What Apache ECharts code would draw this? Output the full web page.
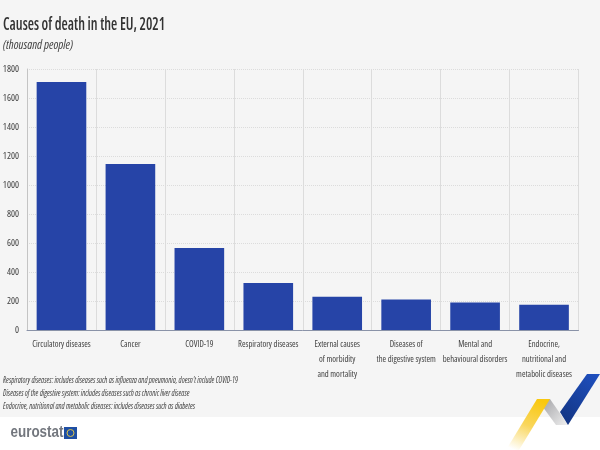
<!DOCTYPE html>
<html>
<head>
<meta charset="utf-8">
<title>Causes of death in the EU, 2021</title>
<style>
  html, body { margin: 0; padding: 0; background: #fff; }
  #chart { width: 600px; height: 450px; }
</style>
<script src="https://cdn.jsdelivr.net/npm/echarts@6/dist/echarts.min.js"></script>
</head>
<body>
<div id="chart"></div>
<script>
var chartTitle = 'Causes of death in the EU, 2021';
var chartUnit = '(thousand people)';
var categories = [
  'Circulatory diseases',
  'Cancer',
  'COVID-19',
  'Respiratory diseases',
  'External causes\nof morbidity\nand mortality',
  'Diseases of\nthe digestive system',
  'Mental and\nbehavioural disorders',
  'Endocrine,\nnutritional and\nmetabolic diseases'
];
var deaths = [1710, 1145, 565, 325, 230, 210, 190, 175];
var footnotes = [
  "Respiratory diseases: includes diseases such as influenza and pneumonia, doesn't include COVID-19",
  'Diseases of the digestive system: includes diseases such as chronic liver disease',
  'Endocrine, nutritional and metabolic diseases: includes diseases such as diabetes'
];

var fontName = '"Open Sans", sans-serif';
// fontWeight goes straight into the canvas font string, this gets the narrow width of Open Sans
var narrow = 'extra-condensed';
var textColor = '#404040';
var gridColor = '#dcdcdc';

var myChart = echarts.init(document.getElementById('chart'));

var option = {
  animation: false,
  backgroundColor: '#ffffff',
  textStyle: { fontFamily: fontName, color: textColor },
  grid: { left: 27, right: 21.5, top: 69, bottom: 120, outerBoundsMode: 'none' },
  xAxis: {
    type: 'category',
    data: categories,
    axisTick: { show: false },
    axisLine: { lineStyle: { color: '#8a93a8', width: 1 } },
    axisLabel: {
      interval: 0,
      margin: 7,
      fontFamily: fontName,
      fontWeight: narrow,
      fontSize: 8.6,
      lineHeight: 15,
      color: textColor
    },
    splitLine: { show: true, lineStyle: { color: gridColor, width: 1 } }
  },
  yAxis: {
    type: 'value',
    min: 0,
    max: 1800,
    interval: 200,
    axisLine: { show: true, lineStyle: { color: '#c4c4c4', width: 1 } },
    axisTick: { show: false },
    axisLabel: {
      margin: 8,
      fontFamily: fontName,
      fontWeight: narrow,
      fontSize: 9.5,
      color: textColor,
      formatter: function (v) { return String(v); }
    },
    splitLine: { show: true, lineStyle: { color: gridColor, width: 1, type: 'dotted' } }
  },
  series: [{
    name: 'Deaths',
    type: 'bar',
    data: deaths,
    barWidth: '72%',
    itemStyle: { color: '#2644a7' }
  }],
  graphic: [
    // page background above the logo strip
    { type: 'rect', z: -10, silent: true, shape: { x: 0, y: 0, width: 600, height: 417 }, style: { fill: '#f5f5f5' } },
    // title and unit
    { type: 'text', z: 5, x: 3, y: 17, scaleX: 0.84, style: { text: chartTitle, font: '600 extra-condensed 17px ' + fontName, fill: '#333333' } },
    { type: 'text', z: 5, x: 3, y: 39.5, style: { text: chartUnit, font: 'italic extra-condensed 12px ' + fontName, fill: textColor } },
    // footnotes
    { type: 'text', z: 5, x: 3, y: 376, scaleX: 0.85, style: { text: footnotes[0], font: 'italic extra-condensed 8.8px ' + fontName, fill: textColor } },
    { type: 'text', z: 5, x: 3, y: 389, scaleX: 0.85, style: { text: footnotes[1], font: 'italic extra-condensed 8.8px ' + fontName, fill: textColor } },
    { type: 'text', z: 5, x: 3, y: 402, scaleX: 0.85, style: { text: footnotes[2], font: 'italic extra-condensed 8.8px ' + fontName, fill: textColor } },
    // eurostat logo
    { type: 'text', z: 5, x: 10.5, y: 425, scaleX: 0.84, style: { text: 'eurostat', font: 'bold 16px "Liberation Sans", sans-serif', fill: '#73777e' } },
    { type: 'rect', z: 5, shape: { x: 64, y: 427, width: 13, height: 12 }, style: { fill: '#1f4fa3' } },
    { type: 'circle', z: 6, shape: { cx: 70.5, cy: 433, r: 3.5 }, style: { fill: 'none', stroke: '#d9c24a', lineWidth: 1 } },
    // arrow decoration
    {
      type: 'polygon', z: 5,
      shape: { points: [[506, 450], [537, 399], [550, 399], [519, 450]] },
      style: { fill: new echarts.graphic.LinearGradient(0.7, 0, 0.2, 1, [
        { offset: 0, color: '#f9c80e' }, { offset: 0.5, color: '#f9d65c' }, { offset: 1, color: '#ffffff' }
      ]) }
    },
    {
      type: 'polygon', z: 4,
      shape: { points: [[537, 399], [550, 399], [568, 425], [556, 425]] },
      style: { fill: new echarts.graphic.LinearGradient(0, 0, 1, 1, [
        { offset: 0, color: '#9a9a9e' }, { offset: 1, color: '#f0f0f0' }
      ]) }
    },
    {
      type: 'polygon', z: 5,
      shape: { points: [[587, 374], [600, 374], [568, 425], [560, 412]] },
      style: { fill: new echarts.graphic.LinearGradient(1, 0, 0, 1, [
        { offset: 0, color: '#1f50c0' }, { offset: 1, color: '#12337f' }
      ]) }
    }
  ]
};

myChart.setOption(option);
</script>
</body>
</html>
